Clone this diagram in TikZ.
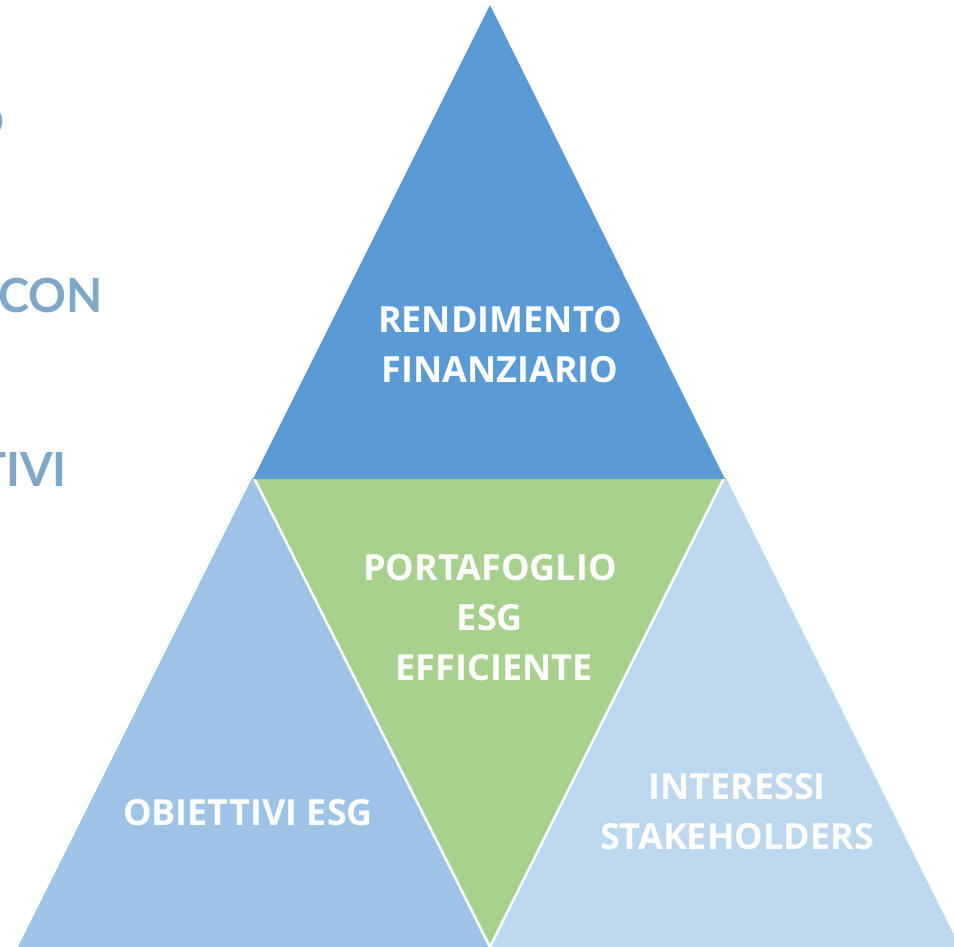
\documentclass[tikz,border=0pt]{standalone}
\usepackage{fontspec}
\setmainfont{Open Sans}
\newfontfamily\sidefont{Lato}
\usepackage{xcolor}
\definecolor{topblue}{HTML}{5B9BD5}
\definecolor{midgreen}{HTML}{A9D18E}
\definecolor{leftblue}{HTML}{9DC3E6}
\definecolor{rightblue}{HTML}{BDD7EE}
\definecolor{sidegray}{HTML}{7FA7C9}

\begin{document}
\begin{tikzpicture}[x=1pt,y=-1pt,line join=miter,
  label/.style={text=white,font=\bfseries\fontsize{36}{50}\selectfont,align=center,inner sep=0pt},
  side/.style={text=sidegray,font=\sidefont\bfseries\fontsize{47}{50}\selectfont,inner sep=0pt,anchor=east}]
\useasboundingbox (0,0) rectangle (954,947);
\clip (0,0) rectangle (954,947);
% corners of the four triangles
\coordinate (top) at (490,5);
\coordinate (ul) at (253,476);
\coordinate (ur) at (725,476);
\coordinate (bl) at (18,947);
\coordinate (bm) at (490,947);
\coordinate (br) at (960,947);
% triangles
\fill[leftblue] (ul) -- (bl) -- (bm) -- cycle;
\fill[rightblue] (ur) -- (bm) -- (br) -- cycle;
\fill[midgreen,draw=white,line width=2.5pt] (ul) -- (ur) -- (bm) -- cycle;
\fill[topblue] (top) -- ([yshift=-3]ur) -- ([yshift=-3]ul) -- cycle;
% labels
\node[label] (rend) at (500,345) {RENDIMENTO\\FINANZIARIO};
\node[label] (port) at (490,618) {PORTAFOGLIO\\ESG\\\hspace*{8pt}EFFICIENTE};
\node[label] (obie) at (248,813) {OBIETTIVI ESG};
\node[label] (inte) at (737,812) {INTERESSI\\STAKEHOLDERS};
% text cut at the left edge
\node[side] (cutO) at (5,122) {O};
\node[side] (cutCON) at (103,296) {CON};
\node[side] (cutTIVI) at (67,470) {TIVI};
\end{tikzpicture}
\end{document}
